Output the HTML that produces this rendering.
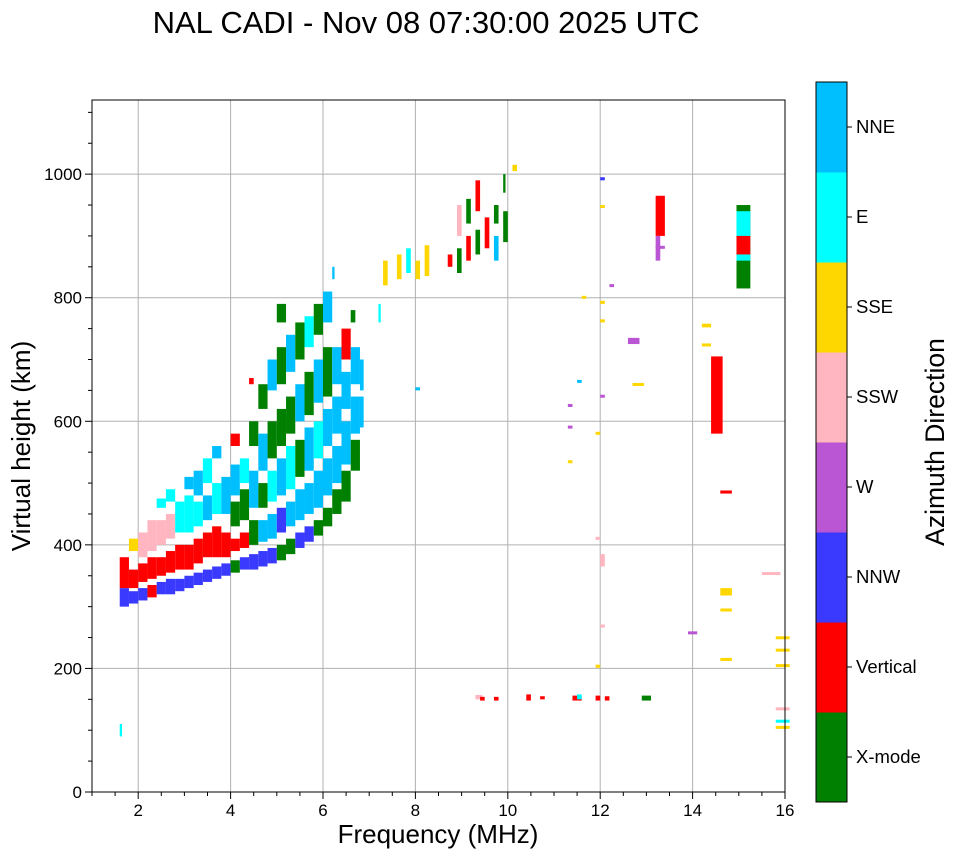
<!DOCTYPE html>
<html><head><meta charset="utf-8"><style>
body{margin:0;background:#fff;}
svg text{font-family:"Liberation Sans",sans-serif;}
</style></head><body>
<svg id="chart" width="958" height="857" viewBox="0 0 958 857" xmlns="http://www.w3.org/2000/svg">
<rect width="958" height="857" fill="#fff"/>
<text x="426" y="33" font-size="31" text-anchor="middle">NAL CADI - Nov 08 07:30:00 2025 UTC</text>
<g id="grid"></g>
<g id="marks"></g>
<rect x="92" y="100" width="693" height="692" fill="none" stroke="#000" stroke-width="1"/>
<g id="axes"></g>
<text x="438" y="843" font-size="26" text-anchor="middle">Frequency (MHz)</text>
<text transform="translate(30,446) rotate(-90)" font-size="26" text-anchor="middle">Virtual height (km)</text>
<g id="colorbar"></g>
<text transform="translate(944,442) rotate(-90)" font-size="26.5" text-anchor="middle">Azimuth Direction</text>
</svg>
<script>
const xTicks=[2,4,6,8,10,12,14,16];
const yTicks=[0,200,400,600,800,1000];
const dirNames=["X-mode","Vertical","NNW","W","SSW","SSE","E","NNE"];
const dirColors=["#008000","#ff0000","#3a3aff","#ba55d3","#ffb6c1","#ffd700","#00ffff","#00bfff"];
// segments: [freq MHz, low km, high km, direction index, width MHz]
const segs=[
[1.6,300,330,2,.2],[1.6,330,380,1,.2],[1.8,305,325,2,.2],[1.8,330,360,1,.2],[1.8,390,410,5,.2],
[2.0,310,330,2,.2],[2.0,340,370,1,.2],[2.0,380,420,4,.2],[2.2,315,335,1,.2],[2.2,345,380,1,.2],[2.2,390,440,4,.2],
[2.4,320,340,2,.2],[2.4,350,380,1,.2],[2.4,400,440,4,.2],[2.4,460,475,6,.2],
[2.6,320,345,2,.2],[2.6,355,390,1,.2],[2.6,410,450,4,.2],[2.6,470,490,6,.2],
[2.8,325,345,2,.2],[2.8,360,400,1,.2],[2.8,420,470,6,.2],
[3.0,330,350,2,.2],[3.0,360,400,1,.2],[3.0,420,480,6,.2],[3.0,490,510,7,.2],
[3.2,335,355,2,.2],[3.2,370,410,1,.2],[3.2,430,470,6,.2],[3.2,480,520,7,.2],
[3.4,340,360,2,.2],[3.4,380,420,1,.2],[3.4,440,480,7,.2],[3.4,500,540,6,.2],
[3.6,345,365,2,.2],[3.6,380,430,1,.2],[3.6,450,500,6,.2],[3.6,540,560,7,.2],
[3.8,350,370,2,.2],[3.8,380,420,1,.2],[3.8,450,510,7,.2],
[4.0,355,375,0,.2],[4.0,390,410,1,.2],[4.0,430,470,0,.2],[4.0,480,530,7,.2],[4.0,560,580,1,.2],
[4.2,360,380,2,.2],[4.2,395,420,1,.2],[4.2,440,490,0,.2],[4.2,500,540,6,.2],
[4.4,360,385,2,.2],[4.4,400,440,0,.2],[4.4,460,520,7,.2],[4.4,560,600,0,.2],[4.4,660,670,1,.1],
[4.6,365,390,2,.2],[4.6,405,440,7,.2],[4.6,460,500,0,.2],[4.6,520,580,7,.2],[4.6,620,660,0,.2],
[4.8,370,395,2,.2],[4.8,410,450,7,.2],[4.8,470,520,6,.2],[4.8,540,600,0,.2],[4.8,650,700,7,.2],
[5.0,375,400,0,.2],[5.0,420,460,2,.2],[5.0,480,540,7,.2],[5.0,560,620,0,.2],[5.0,660,720,0,.2],[5.0,760,790,0,.2],
[5.2,385,410,0,.2],[5.2,430,470,7,.2],[5.2,490,560,6,.2],[5.2,580,640,0,.2],[5.2,680,740,7,.2],
[5.4,395,420,2,.2],[5.4,440,490,7,.2],[5.4,510,570,0,.2],[5.4,600,660,7,.2],[5.4,700,760,0,.2],
[5.6,405,430,2,.2],[5.6,450,500,7,.2],[5.6,520,590,7,.2],[5.6,610,680,0,.2],[5.6,720,770,6,.2],
[5.8,415,440,0,.2],[5.8,460,520,7,.2],[5.8,540,600,6,.2],[5.8,630,700,7,.2],[5.8,740,790,0,.2],
[6.0,430,460,0,.2],[6.0,480,540,7,.2],[6.0,560,620,7,.2],[6.0,640,720,0,.2],[6.0,760,810,7,.2],
[6.2,450,490,0,.2],[6.2,500,560,7,.2],[6.2,580,640,7,.2],[6.2,660,720,7,.2],[6.2,830,850,7,.05],
[6.4,470,520,0,.2],[6.4,530,600,7,.2],[6.4,620,680,7,.2],[6.4,700,750,1,.2],
[6.6,520,570,0,.2],[6.6,580,640,7,.2],[6.6,660,720,7,.2],[6.6,760,780,0,.1],
[6.8,590,640,7,.08],[6.8,650,700,7,.08],[7.2,760,790,6,.05],
[7.3,820,860,5,.1],[7.6,830,870,5,.1],[7.8,840,880,6,.1],[8.0,830,860,5,.1],[8.2,835,885,5,.1],
[8.7,850,870,1,.1],[8.9,840,880,0,.1],[8.9,900,950,4,.1],[9.1,860,900,1,.1],[9.1,920,960,0,.1],
[9.3,870,910,0,.1],[9.3,940,990,1,.1],[9.5,880,930,1,.1],[9.7,860,900,7,.1],[9.7,920,950,0,.1],[9.9,890,940,0,.1],[9.9,970,1000,0,.05],[10.1,1005,1015,5,.1],
[1.6,90,110,6,.05],[9.3,150,157,4,.15],[9.4,148,154,1,.1],[9.7,148,154,1,.1],[10.4,148,158,1,.1],[10.7,150,155,1,.1],
[11.4,148,156,1,.2],[11.5,150,158,6,.1],[11.9,148,156,1,.1],[12.1,148,155,1,.1],[12.9,148,156,0,.2],
[13.2,900,965,1,.2],[13.2,860,900,3,.1],[14.95,815,950,0,.3],[14.95,860,940,6,.3],[14.95,870,900,1,.3],
[14.4,580,705,1,.25],[14.6,483,488,1,.25],[14.2,752,758,5,.2],[14.2,722,726,5,.2],
[12.6,725,735,3,.25],[12.7,658,662,5,.25],[13.9,256,260,3,.2],[14.6,213,217,5,.25],[14.6,293,297,5,.25],[14.6,318,330,5,.25],
[15.5,352,356,4,.4],[15.8,248,252,5,.3],[15.8,228,232,5,.3],[15.8,203,207,5,.3],[15.8,133,137,4,.3],[15.8,113,117,6,.3],[15.8,103,107,5,.3],
[11.6,800,803,5,.1],[12.0,790,795,5,.1],[12.0,760,765,5,.1],[11.5,663,667,7,.1],[12.0,640,643,3,.1],[11.3,625,628,3,.1],[11.3,590,593,3,.1],[11.9,580,583,5,.1],[11.3,534,537,5,.1],[11.9,410,413,4,.1],[12.0,365,385,4,.1],[12.0,268,271,4,.1],[11.9,203,206,5,.1],[12.2,818,822,3,.1],[12.0,990,995,2,.1],[12.0,947,950,5,.1],[13.2,880,884,3,.2],[8.0,650,655,7,.1]
];
const segFreq=segs.map(s=>s[0]);
const segLow=segs.map(s=>s[1]);
const segHigh=segs.map(s=>s[2]);
const segDir=segs.map(s=>s[3]);
const segWidth=segs.map(s=>s[4]);

const NS="http://www.w3.org/2000/svg";
const X0=92,X1=785,Y0=792,Y1=100,FMIN=1,FMAX=16,HMIN=0,HMAX=1120;
function xs(f){return X0+(f-FMIN)/(FMAX-FMIN)*(X1-X0);}
function ys(h){return Y0-(h-HMIN)/(HMAX-HMIN)*(Y0-Y1);}
function mk(tag,attrs,parent){const e=document.createElementNS(NS,tag);for(const k in attrs)e.setAttribute(k,attrs[k]);parent.appendChild(e);return e;}
const grid=document.getElementById('grid'),marks=document.getElementById('marks'),axes=document.getElementById('axes'),cb=document.getElementById('colorbar');
xTicks.forEach(t=>{
 const l=mk('line',{x1:xs(t),x2:xs(t),y1:Y1,y2:Y0,stroke:'#b0b0b0','stroke-width':1},grid);
 
 
});
yTicks.forEach(t=>{
 const l=mk('line',{x1:X0,x2:X1,y1:ys(t),y2:ys(t),stroke:'#b0b0b0','stroke-width':1},grid);
 
 
});
for(let i=0;i<segs.length;i++){
 const w=Math.max(2,xs(segFreq[i]+segWidth[i])-xs(segFreq[i]));
 const h=Math.max(3,ys(segLow[i])-ys(segHigh[i]));
 const r=mk('rect',{x:xs(segFreq[i]),y:ys(segHigh[i]),width:w,height:h,fill:dirColors[segDir[i]]},marks);
 
 
}
for(let f=1;f<=16;f+=0.5){mk('line',{x1:xs(f),x2:xs(f),y1:Y0,y2:Y0+(f%2===0?7:4),stroke:'#000'},axes);}
for(let h=0;h<=1100;h+=50){mk('line',{x1:X0,x2:X0-(h%200===0?7:4),y1:ys(h),y2:ys(h),stroke:'#000'},axes);}
xTicks.forEach(t=>{
 const tx=mk('text',{x:xs(t),y:Y0+24,'font-size':17,'text-anchor':'middle'},axes);tx.textContent=t;
 
 
});
yTicks.forEach(t=>{
 const tx=mk('text',{x:X0-10,y:ys(t)+6,'font-size':17,'text-anchor':'end'},axes);tx.textContent=t;
 
 
});
const CX=816,CW=31,CT=82,CB=802,seg=(CB-CT)/8;
dirNames.forEach((n,i)=>{
 const y=CB-(i+1)*seg;
 const r=mk('rect',{x:CX,y:y,width:CW,height:seg+0.5,fill:dirColors[i]},cb);
 
 
 mk('line',{x1:CX+CW,x2:CX+CW+5,y1:y+seg/2,y2:y+seg/2,stroke:'#000'},cb);
 const tx=mk('text',{x:CX+CW+9,y:y+seg/2+6,'font-size':18.5},cb);tx.textContent=n;
 
 
});
mk('rect',{x:CX,y:CT,width:CW,height:CB-CT,fill:'none',stroke:'#000'},cb);
</script>
</body></html>
